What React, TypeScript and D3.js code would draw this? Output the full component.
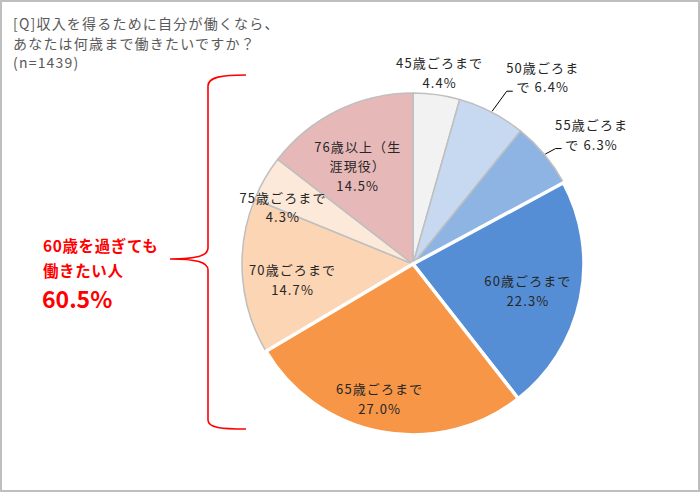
import { useEffect, useRef } from 'react';
import * as d3 from 'd3';

// slice data, clockwise from 12 o'clock
const categories = [
  '45歳ごろまで',
  '50歳ごろまで',
  '55歳ごろまで',
  '60歳ごろまで',
  '65歳ごろまで',
  '70歳ごろまで',
  '75歳ごろまで',
  '76歳以上（生涯現役）',
];
const values = [4.4, 6.4, 6.3, 22.3, 27.0, 14.7, 4.3, 14.5];
// how each label is broken into lines
const labelLines = [
  ['45歳ごろまで', '4.4%'],
  ['50歳ごろま', 'で 6.4%'],
  ['55歳ごろま', 'で 6.3%'],
  ['60歳ごろまで', '22.3%'],
  ['65歳ごろまで', '27.0%'],
  ['70歳ごろまで', '14.7%'],
  ['75歳ごろまで', '4.3%'],
  ['76歳以上（生', '涯現役）', '14.5%'],
];
const colors = ['#f2f2f2', '#c6d9f1', '#8eb4e3', '#558ed5', '#f79646', '#fcd5b5', '#fde9d9', '#e6b9b8'];
const titleLines = ['[Q]収入を得るために自分が働くなら、', 'あなたは何歳まで働きたいですか？', '(n=1439)'];
const noteLines = ['60歳を過ぎても', '働きたい人'];
const noteValue = '60.5%';

// label placement: radius factor, angle nudge (deg), leader line or not
const labelLayout = [
  { k: 1.13, da: 0, leader: false },
  { k: 1.33, da: 7.4, leader: true },
  { k: 1.29, da: 3.8, leader: true },
  { k: 0.69, da: 1.3, leader: false },
  { k: 0.81, da: 3.3, leader: false },
  { k: 0.71, da: -3.1, leader: false },
  { k: 0.83, da: -6.4, leader: false },
  { k: 0.66, da: -3.2, leader: false },
];
const highlighted = new Set([3, 4]);

const W = 700;
const H = 492;
const FONT = '"Noto Sans CJK JP", "Noto Sans", sans-serif';

export default function App() {
  const ref = useRef<SVGSVGElement>(null);

  useEffect(() => {
    if (!ref.current) return;
    const svg = d3.select(ref.current);
    svg.selectAll('*').remove();

    svg.append('rect')
      .attr('x', 1).attr('y', 1)
      .attr('width', W - 2).attr('height', H - 2)
      .attr('fill', '#fff')
      .attr('stroke', '#bfbfbf')
      .attr('stroke-width', 2);

    // title
    svg.append('g')
      .selectAll('text')
      .data(titleLines)
      .enter()
      .append('text')
      .attr('x', 13)
      .attr('y', (_, i) => 23 + i * 19.5)
      .attr('dominant-baseline', 'central')
      .style('font-family', FONT)
      .style('font-size', '14px')
      .style('letter-spacing', '1.2px')
      .style('fill', '#595959')
      .text(d => d);

    const cx = 413;
    const cy = 264;
    const r = 171;
    const g = svg.append('g').attr('transform', `translate(${cx},${cy})`);

    const pie = d3.pie<number>().sort(null).value(d => d);
    const arcs = pie(values);
    const arc = d3.arc<d3.PieArcDatum<number>>().innerRadius(0).outerRadius(r);

    // white-bordered slices go on top so their borders stay visible
    const order = d3.range(values.length).sort((a, b) => (highlighted.has(a) ? 1 : 0) - (highlighted.has(b) ? 1 : 0));
    g.selectAll('path.slice')
      .data(order.map(i => ({ a: arcs[i], i })))
      .enter()
      .append('path')
      .attr('class', 'slice')
      .attr('d', d => arc(d.a) as string)
      .attr('fill', d => colors[d.i])
      .attr('stroke', d => (highlighted.has(d.i) ? '#ffffff' : '#bfbfbf'))
      .attr('stroke-width', d => (highlighted.has(d.i) ? 3.5 : 1.5))
      .attr('stroke-linejoin', 'round');

    const polar = (ang: number, rad: number): [number, number] => [rad * Math.sin(ang), -rad * Math.cos(ang)];

    arcs.forEach((a, i) => {
      const lay = labelLayout[i];
      const mid = (a.startAngle + a.endAngle) / 2;
      const [tx, ty] = polar(mid + (lay.da * Math.PI) / 180, r * lay.k);
      const lines = labelLines[i];
      const lh = 19.5;
      const t = g.append('text')
        .attr('text-anchor', 'middle')
        .style('font-family', FONT)
        .style('font-size', '13px')
        .style('letter-spacing', '1.1px')
        .style('fill', '#262626');
      lines.forEach((ln, j) => {
        t.append('tspan')
          .attr('x', tx)
          .attr('y', ty + (j - (lines.length - 1) / 2) * lh)
          .attr('dominant-baseline', 'central')
          .text(ln);
      });
      if (lay.leader) {
        const [px, py] = polar(mid, r + 1);
        const ex = tx - 36;
        const ey = ty + 14;
        g.append('path')
          .attr('d', `M${px},${py}L${ex},${ey}L${ex + 6},${ey}`)
          .attr('fill', 'none')
          .attr('stroke', '#000')
          .attr('stroke-width', 1);
      }
    });

    // red brace + note
    const top = cy - r - 18;
    const bot = cy + r - 6;
    const bx = 208;
    const tip = 170;
    const midY = 259;
    svg.append('path')
      .attr('d',
        `M246,${top}C222,${top} ${bx},${top + 2} ${bx},${top + 11}` +
        `L${bx},${midY - 11}C${bx},${midY - 3} ${bx - 12},${midY} ${tip},${midY}` +
        `C${bx - 12},${midY} ${bx},${midY + 3} ${bx},${midY + 11}` +
        `L${bx},${bot - 9}C${bx},${bot - 1} ${bx + 14},${bot} 246,${bot}`)
      .attr('fill', 'none')
      .attr('stroke', '#ff0000')
      .attr('stroke-width', 1.6);

    svg.append('g')
      .selectAll('text')
      .data(noteLines)
      .enter()
      .append('text')
      .attr('x', 43)
      .attr('y', (_, i) => 245 + i * 25)
      .attr('dominant-baseline', 'central')
      .style('font-family', FONT)
      .style('font-size', '15.5px')
      .style('font-weight', 'bold')
      .style('letter-spacing', '0.6px')
      .style('fill', '#ff0000')
      .text(d => d);

    svg.append('text')
      .attr('x', 42)
      .attr('y', 298)
      .attr('dominant-baseline', 'central')
      .style('font-family', FONT)
      .style('font-size', '23px')
      .style('font-weight', 'bold')
      .style('fill', '#ff0000')
      .text(noteValue);
  }, []);

  return (
    <svg
      ref={ref}
      width={W}
      height={H}
      style={{ position: 'absolute', left: 0, top: 0, background: '#fff' }}
    />
  );
}
